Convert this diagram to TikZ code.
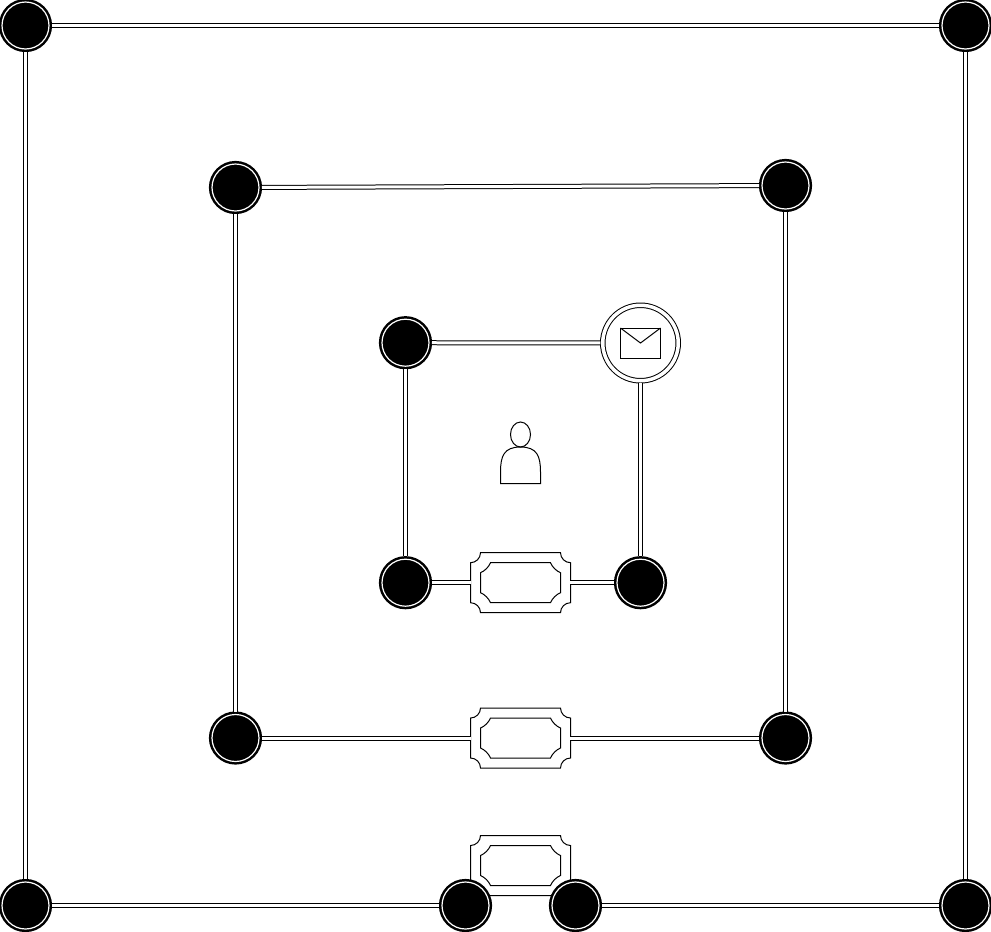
\documentclass[tikz,border=0pt]{standalone}
\tikzset{
    junction/.style={circle,draw=black,fill=black,line width=0.05cm,double=white,double distance=0.024cm,minimum size=0.94cm,inner sep=0pt,outer sep=0.06cm},
    mailbox/.style={circle,draw=black,fill=white,line width=0.02cm,double=white,double distance=0.07cm,minimum size=1.51cm,inner sep=0pt,outer sep=0.05cm},
    wire/.style={draw=black,line width=0.02cm,double=white,double distance=0.06cm},
    outline/.style={draw=black,line width=0.02cm,fill=white},
    plaque/.pic={
        \node[rectangle,minimum width=2cm,minimum height=1.2cm,inner sep=0pt,outer sep=0pt] (-box) at (0,0) {};
        \draw[outline] (-40,-30) -- (40,-30)
            .. controls (40,-24.5) and (44.5,-20) .. (50,-20) -- (50,20)
            .. controls (44.5,20) and (40,24.5) .. (40,30) -- (-40,30)
            .. controls (-40,24.5) and (-44.5,20) .. (-50,20) -- (-50,-20)
            .. controls (-44.5,-20) and (-40,-24.5) .. (-40,-30) -- cycle;
        \draw[outline] (-30,-20) -- (30,-20)
            .. controls (31.5,-16) and (36,-11.5) .. (40,-10) -- (40,10)
            .. controls (36,11.5) and (31.5,16) .. (30,20) -- (-30,20)
            .. controls (-31.5,16) and (-36,11.5) .. (-40,10) -- (-40,-10)
            .. controls (-36,-11.5) and (-31.5,-16) .. (-30,-20) -- cycle;
    }
}
\begin{document}
\begin{tikzpicture}[x=0.02cm,y=-0.02cm]
    \useasboundingbox (0,0) rectangle (991,931);

    % plaques
    \pic (plaqueInner) at (520.5,582.7) {plaque};
    \pic (plaqueMiddle) at (520.5,738) {plaque};
    \pic (plaqueOuter) at (520.5,865.5) {plaque};

    % outer square
    \node[junction] (outerTL) at (25.5,25.5) {};
    \node[junction] (outerTR) at (965.5,25.5) {};
    \node[junction] (outerBL) at (25.5,905.5) {};
    \node[junction] (outerBR) at (965.5,905.5) {};
    \node[junction] (outerBA) at (465.5,905.5) {};
    \node[junction] (outerBB) at (575.5,905.5) {};
    \draw[wire] (outerTL) -- (outerTR);
    \draw[wire] (outerTL) -- (outerBL);
    \draw[wire] (outerTR) -- (outerBR);
    \draw[wire] (outerBL) -- (outerBA);
    \draw[wire] (outerBB) -- (outerBR);

    % middle square
    \node[junction] (middleTL) at (235.5,187.5) {};
    \node[junction] (middleTR) at (785.5,185.5) {};
    \node[junction] (middleBL) at (235.5,738) {};
    \node[junction] (middleBR) at (785.5,738) {};
    \draw[wire] (middleTL) -- (middleTR);
    \draw[wire] (middleTL) -- (middleBL);
    \draw[wire] (middleTR) -- (middleBR);
    \draw[wire] (middleBL) -- (plaqueMiddle-box);
    \draw[wire] (plaqueMiddle-box) -- (middleBR);

    % inner square
    \node[junction] (innerTL) at (405.5,342.7) {};
    \node[mailbox] (innerTR) at (640.5,343) {};
    \node[junction] (innerBL) at (405.5,582.7) {};
    \node[junction] (innerBR) at (640.5,582.7) {};
    \draw[wire] (innerTL) -- (innerTR);
    \draw[wire] (innerTL) -- (innerBL);
    \draw[wire] (innerTR) -- (innerBR);
    \draw[wire] (innerBL) -- (plaqueInner-box);
    \draw[wire] (plaqueInner-box) -- (innerBR);

    % envelope
    \draw[line width=0.02cm] (620.5,328) rectangle (660.5,358);
    \draw[line width=0.02cm] (620.5,328) -- (640.5,343) -- (660.5,328);

    % person
    \draw[line width=0.02cm] (520.5,434.5) ellipse [x radius=10,y radius=12.5];
    \draw[line width=0.02cm] (500.5,483.5) -- (500.5,472)
        .. controls (500.5,456) and (504,447) .. (520.5,447)
        .. controls (537,447) and (540.5,456) .. (540.5,472) -- (540.5,483.5) -- cycle;
\end{tikzpicture}
\end{document}
